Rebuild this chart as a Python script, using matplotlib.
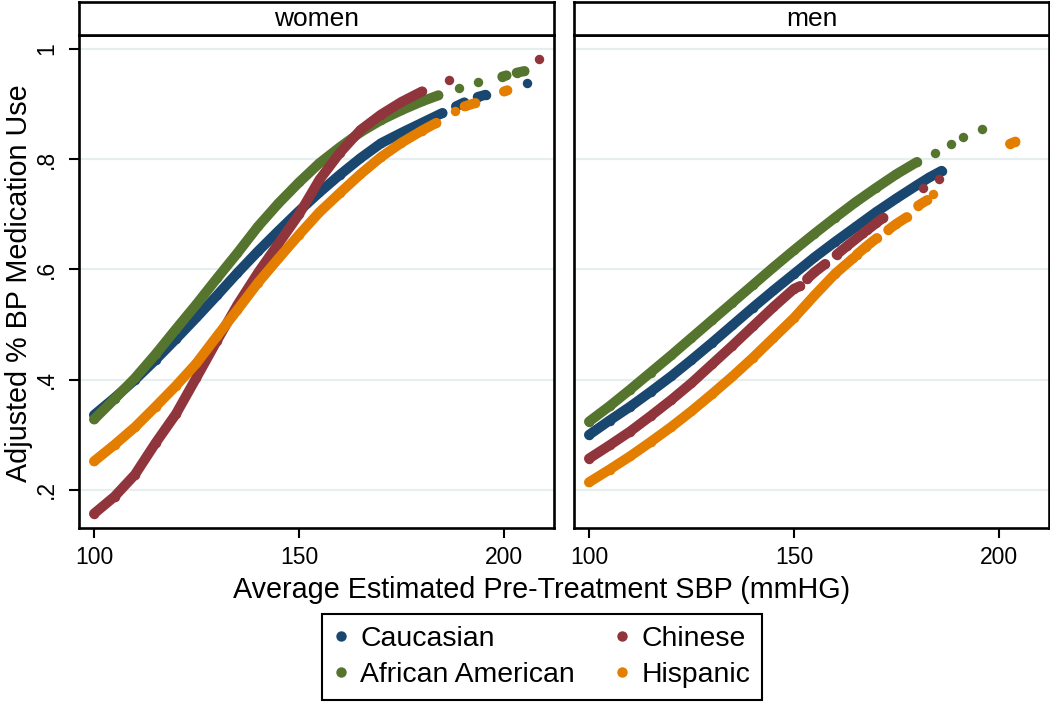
import numpy as np
import matplotlib
matplotlib.use('Agg')
import matplotlib.pyplot as plt
from matplotlib.lines import Line2D

nan = np.nan

# ---------------- data ----------------
panels = ['women', 'men']
groups = ['Caucasian', 'African American', 'Chinese', 'Hispanic']
colors = ['#1a476f', '#55752f', '#90353b', '#e37e00']

# women
w_cau_x = [100, 105, 110, 115, 120, 125, 130, 135, 140, 145, 150, 155, 160, 165, 170, 175, 180, 185, nan, 188.3, 190.3, nan, 193.6, 195.5, nan, 205.7]
w_cau_y = [.336, .367, .400, .436, .474, .513, .553, .594, .633, .670, .706, .740, .772, .802, .829, .848, .866, .884, nan, .896, .903, nan, .913, .917, nan, .939]

w_afr_x = [100, 105, 110, 115, 120, 125, 130, 135, 140, 145, 150, 155, 160, 165, 170, 175, 180, 184, nan, 189.0, nan, 193.7, nan, 199.6, 200.6, nan, 203.1, 205.0]
w_afr_y = [.328, .365, .403, .446, .492, .537, .584, .630, .678, .720, .758, .793, .822, .849, .871, .889, .905, .916, nan, .929, nan, .940, nan, .950, .952, nan, .957, .960]

w_chi_x = [100, 105, 110, 115, 120, 125, 130, 135, 140, 145, 150, 155, 160, 165, 170, 175, 180, nan, 186.6, nan, 208.5]
w_chi_y = [.157, .188, .228, .285, .338, .404, .471, .536, .594, .647, .700, .763, .812, .853, .881, .904, .923, nan, .944, nan, .982]

w_his_x = [100, 105, 110, 115, 120, 125, 130, 135, 140, 145, 150, 155, 160, 165, 170, 175, 180, 183.5, nan, 188.0, nan, 190.4, 193.0, nan, 200.0, 200.8]
w_his_y = [.252, .282, .314, .351, .389, .430, .479, .527, .576, .620, .663, .704, .739, .773, .804, .830, .852, .866, nan, .887, nan, .896, .902, nan, .923, .925]

# men
m_cau_x = [100, 105, 110, 115, 120, 125, 130, 135, 140, 145, 150, 155, 160, 165, 170, 175, 180, 183, 186]
m_cau_y = [.300, .326, .351, .378, .406, .436, .467, .499, .531, .562, .592, .622, .650, .677, .704, .729, .753, .767, .779]

m_afr_x = [100, 105, 110, 115, 120, 125, 130, 135, 140, 145, 150, 155, 160, 165, 170, 175, 180, nan, 184.4, nan, 188.2, nan, 191.3, nan, 195.9]
m_afr_y = [.324, .352, .382, .413, .444, .476, .508, .540, .572, .604, .635, .665, .694, .722, .748, .773, .795, nan, .811, nan, .827, nan, .840, nan, .855]

m_chi_x = [100, 105, 110, 115, 120, 125, 130, 135, 140, 145, 150, 151.5, nan, 153.2, 155, 157.6, nan, 160.4, 163, 166.9, nan, 167.8, 170, 171.8, nan, 181.5, nan, 185.4]
m_chi_y = [.257, .281, .306, .334, .363, .394, .428, .462, .497, .532, .565, .570, nan, .583, .595, .610, nan, .627, .643, .666, nan, .671, .684, .694, nan, .747, nan, .764]

m_his_x = [100, 105, 110, 115, 120, 125, 130, 135, 140, 145, 150, 155, 160, 164.5, nan, 165.3, 167.5, 170.2, nan, 173.0, 175, 177.5, nan, 180.3, 182.5, nan, 184.0, nan, 202.7, 204.0]
m_his_y = [.214, .237, .261, .287, .314, .343, .374, .406, .440, .476, .512, .553, .592, .621, nan, .627, .641, .657, nan, .672, .683, .695, nan, .716, .726, nan, .737, nan, .828, .832]

series = {
    'women': [(w_cau_x, w_cau_y), (w_afr_x, w_afr_y), (w_chi_x, w_chi_y), (w_his_x, w_his_y)],
    'men': [(m_cau_x, m_cau_y), (m_afr_x, m_afr_y), (m_chi_x, m_chi_y), (m_his_x, m_his_y)],
}

xticks = [100, 150, 200]
yticks = [.2, .4, .6, .8, 1]
ytick_labels = ['.2', '.4', '.6', '.8', '1']
xlabel = 'Average Estimated Pre-Treatment SBP (mmHG)'
ylabel = 'Adjusted % BP Medication Use'

# ---------------- figure ----------------
plt.rcParams['font.family'] = ['Liberation Sans', 'DejaVu Sans']
W, H = 1050, 703
fig = plt.figure(figsize=(W / 100, H / 100), dpi=100)

def fx(px):
    return px / W

def fy(py):
    return 1 - py / H

panel_left = [79, 574]
panel_w = 475
plot_top, plot_bot = 35, 528
head_top = 2

LW = 7.2
MS = 6.8
GRID = '#e6eef0'
TICKFS = 16.5

for i, name in enumerate(panels):
    ax = fig.add_axes([fx(panel_left[i]), fy(plot_bot), panel_w / W, (plot_bot - plot_top) / H])
    ax.set_xlim(96.34, 212.2)
    ax.set_ylim(0.131, 1.0254)
    for y in yticks:
        ax.axhline(y, color=GRID, lw=1.6, zorder=0)
    for (xs, ys), c in zip(series[name], colors):
        ax.plot(xs, ys, '-', color=c, lw=LW, solid_capstyle='round',
                marker='o', ms=MS, mec='none', zorder=3)
    for s in ax.spines.values():
        s.set_linewidth(1.9)
        s.set_color('black')
    ax.set_xticks(xticks)
    ax.set_xticklabels([str(t) for t in xticks])
    ax.tick_params(axis='x', direction='out', length=7, width=1.5, labelsize=TICKFS, pad=6)
    ax.set_yticks(yticks)
    if i == 0:
        ax.set_yticklabels(ytick_labels, rotation=90, va='center')
        ax.tick_params(axis='y', direction='out', length=7, width=1.5, labelsize=TICKFS, pad=8)
    else:
        ax.set_yticklabels([])
        ax.tick_params(axis='y', length=0)

    hx = fig.add_axes([fx(panel_left[i]), fy(plot_top), panel_w / W, (plot_top - head_top) / H])
    hx.set_xticks([])
    hx.set_yticks([])
    for s in hx.spines.values():
        s.set_linewidth(1.9)
        s.set_color('black')
    hx.text(0.5, 0.47, name, ha='center', va='center', fontsize=19, transform=hx.transAxes)

fig.text(fx(19), fy(283), ylabel, rotation=90, ha='center', va='center', fontsize=20.7)
fig.text(fx(542), fy(590), xlabel, ha='center', va='center', fontsize=20.7)

handles = [Line2D([], [], ls='', marker='o', ms=7.5, mec='none', color=c) for c in colors]
leg = fig.legend(handles, groups, ncol=2, loc='center',
                 bbox_to_anchor=(fx(542), fy(657)), fontsize=20.4,
                 frameon=True, fancybox=False, edgecolor='black', framealpha=1,
                 handlelength=0.5, handletextpad=0.45, columnspacing=1.4,
                 borderpad=0.42, labelspacing=0.36, borderaxespad=0)
leg.get_frame().set_linewidth(1.5)

fig.savefig('out.png', dpi=100)
